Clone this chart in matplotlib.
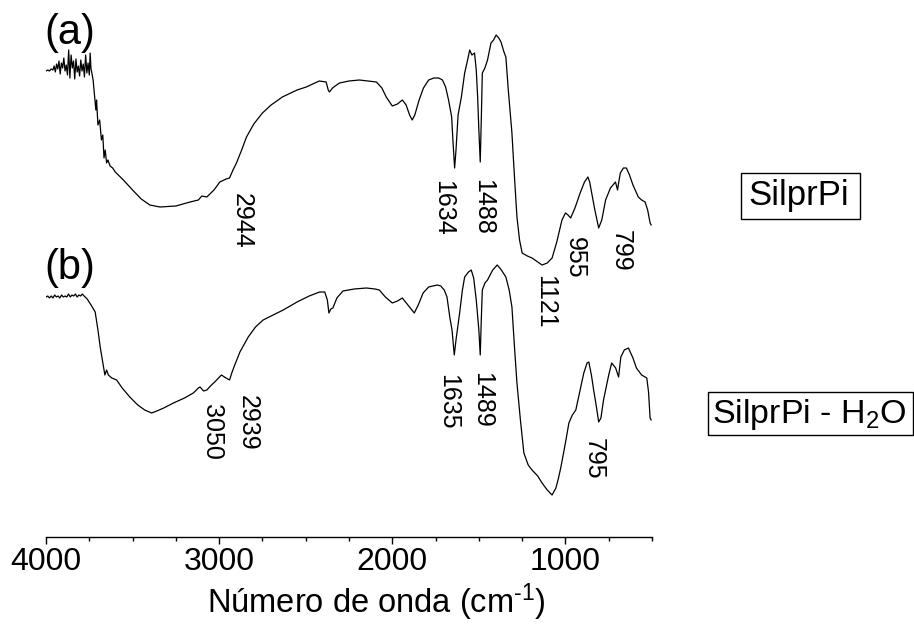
import numpy as np
import matplotlib
matplotlib.use("Agg")
import matplotlib.pyplot as plt
from matplotlib.ticker import MultipleLocator
from matplotlib.patches import Rectangle

plt.rcParams['font.family'] = ['Liberation Sans', 'DejaVu Sans']
plt.rcParams['mathtext.fontset'] = 'custom'
plt.rcParams['mathtext.rm'] = 'Liberation Sans'
plt.rcParams['mathtext.it'] = 'Liberation Sans'

# ---- data: wavenumber (cm-1) and transmittance (arbitrary units, offset curves) ----
wn_a = [4000, 3990, 3980, 3970, 3960, 3953, 3946, 3939, 3932, 3925, 3918, 3911, 3904, 3897,
        3890, 3883, 3876, 3869, 3862, 3855, 3848, 3841, 3834, 3827, 3820, 3813, 3806, 3799,
        3792, 3785, 3778, 3771, 3764, 3757, 3750, 3745, 3740, 3734, 3728, 3720, 3712, 3708,
        3700, 3690, 3680, 3672, 3665, 3658, 3650, 3642, 3630, 3615, 3600, 3553, 3500, 3450,
        3400, 3342, 3250, 3168, 3120, 3100, 3071, 3030, 2996, 2960, 2940, 2920, 2900, 2870,
        2842, 2800, 2750, 2700, 2635, 2550, 2497, 2422, 2382, 2370, 2363, 2345, 2330, 2305,
        2250, 2190, 2092, 2060, 2035, 2000, 1970, 1942, 1920, 1900, 1885, 1870, 1845, 1820,
        1790, 1760, 1732, 1710, 1692, 1675, 1657, 1650, 1640, 1632, 1620, 1601, 1582, 1565,
        1553, 1540, 1525, 1515, 1507, 1500, 1492, 1486, 1480, 1465, 1450, 1430, 1415, 1400,
        1385, 1372, 1355, 1344, 1330, 1309, 1295, 1280, 1265, 1250, 1220, 1193, 1160, 1135,
        1105, 1077, 1050, 1020, 1000, 985, 970, 945, 915, 890, 870, 860, 848, 830, 808, 790,
        768, 740, 711, 699, 690, 683, 665, 648, 630, 610, 579, 560, 540, 525, 511, 505]
t_a = [466, 467, 466, 468, 467, 471, 465, 473, 468, 476, 463, 474, 469, 479,
       466, 472, 462, 487, 459, 482, 469, 476, 458, 478, 465, 471, 461, 477,
       466, 473, 460, 482, 464, 474, 462, 484, 468, 463, 457, 442, 427, 437,
       412, 417, 397, 402, 379, 387, 374, 377, 371, 369, 365, 357, 347, 338,
       332, 330, 331, 335, 337, 341, 340, 347, 355, 358, 359, 367, 374, 387,
       400, 413, 424, 432, 440, 447, 450, 456, 455, 447, 445, 449, 451, 454,
       456, 457, 455, 449, 440, 431, 433, 437, 432, 422, 417, 422, 437, 449,
       457, 459, 459, 457, 450, 437, 420, 397, 369, 387, 422, 440, 464, 477,
       487, 482, 484, 467, 440, 407, 375, 417, 464, 469, 477, 494, 497, 502,
       499, 495, 485, 480, 447, 404, 362, 320, 297, 284, 281, 279, 275, 272,
       274, 279, 295, 317, 324, 322, 319, 329, 344, 355, 360, 355, 344, 327, 309, 317,
       337, 349, 355, 347, 357, 364, 369, 369, 362, 352, 340, 337, 335, 327, 314, 312]

wn_b = [4000, 3990, 3980, 3970, 3960, 3950, 3940, 3930, 3920, 3910, 3900, 3890, 3880, 3870,
        3860, 3850, 3840, 3830, 3820, 3810, 3800, 3790, 3780, 3762, 3740, 3716, 3700, 3687,
        3670, 3660, 3650, 3640, 3620, 3592, 3560, 3516, 3470, 3430, 3390, 3360, 3320, 3264,
        3200, 3149, 3120, 3110, 3090, 3071, 3050, 3020, 2987, 2960, 2940, 2925, 2910, 2880,
        2832, 2790, 2746, 2700, 2630, 2550, 2480, 2420, 2390, 2375, 2366, 2355, 2343, 2320,
        2285, 2220, 2150, 2100, 2075, 2040, 2000, 1970, 1942, 1910, 1873, 1850, 1822, 1790,
        1740, 1720, 1700, 1684, 1668, 1655, 1642, 1632, 1611, 1595, 1582, 1560, 1544, 1530,
        1515, 1500, 1492, 1486, 1480, 1465, 1450, 1420, 1394, 1370, 1344, 1325, 1309, 1295,
        1280, 1260, 1240, 1215, 1193, 1160, 1135, 1105, 1077, 1055, 1040, 1026, 1000, 980,
        960, 940, 915, 894, 875, 865, 850, 837, 820, 808, 795, 780, 768, 750, 733, 710, 693,
        680, 660, 636, 610, 590, 560, 530, 520, 511, 505]
t_b = [240, 241, 239, 241, 239, 242, 240, 241, 239, 242, 240, 241, 240, 243,
       240, 242, 241, 243, 240, 242, 241, 243, 241, 238, 232, 225, 207, 190,
       172, 162, 167, 162, 159, 157, 149, 140, 132, 127, 124, 126, 129, 134,
       139, 144, 149, 150, 146, 147, 151, 156, 162, 159, 157, 165, 172, 185,
       200, 210, 217, 221, 227, 235, 241, 245, 245, 237, 224, 228, 229, 239,
       246, 248, 249, 248, 247, 240, 234, 236, 239, 232, 224, 232, 244, 250,
       252, 251, 247, 240, 220, 207, 182, 197, 224, 247, 260, 265, 267, 259,
       237, 207, 182, 217, 247, 254, 257, 267, 272, 267, 260, 247, 230, 192,
       154, 117, 84, 72, 67, 61, 54, 47, 42, 49, 59, 70, 94, 114,
       122, 127, 147, 164, 174, 175, 162, 147, 129, 115, 119, 137, 147, 162, 174, 169, 160,
       180, 187, 189, 179, 169, 162, 159, 145, 119, 117]

peak_labels_a = ["2944", "1634", "1488", "1121", "955", "799"]
peak_labels_b = ["3050", "2939", "1635", "1489", "795"]
sample_names = ["SilprPi", "SilprPi - H$_\\mathregular{2}$O"]
panel_tags = ["(a)", "(b)"]
x_ticks = [4000, 3000, 2000, 1000]

# ---- layout ----
W, H = 914, 625
fig = plt.figure(figsize=(W / 100, H / 100), dpi=100)
ax = fig.add_axes([46 / W, (H - 537) / H, 606 / W, 537 / H])

ax.plot(wn_a, t_a, color='black', lw=0.9)
ax.plot(wn_b, t_b, color='black', lw=0.9)

ax.set_xlim(4000, 500)
ax.set_ylim(0, 537)
for s in ['top', 'right', 'left']:
    ax.spines[s].set_visible(False)
ax.spines['bottom'].set_linewidth(1.0)
ax.set_yticks([])
ax.set_xticks(x_ticks)
ax.xaxis.set_minor_locator(MultipleLocator(250))
ax.tick_params(axis='x', which='major', direction='out', length=5, width=1.0,
               labelsize=23, pad=2)
ax.tick_params(axis='x', which='minor', direction='out', length=3, width=1.0)

# x-axis title
fig.text(376.5 / W, 1 - 613 / H, "Número de onda (cm$^{\\text{-1}}$)",
         ha='center', va='baseline', fontsize=23.5)

# peak annotations (rotated)
pos_a = [(2868, 316), (1707, 329), (1476, 330), (1118, 235), (945, 279), (679, 286)]
pos_b = [(3041, 105), (2833, 114), (1678, 135), (1482, 137), (835, 78)]
for lab, (x, y) in zip(peak_labels_a, pos_a):
    ax.text(x, y, lab, rotation=270, ha='center', va='center', fontsize=18)
for lab, (x, y) in zip(peak_labels_b, pos_b):
    ax.text(x, y, lab, rotation=270, ha='center', va='center', fontsize=18)

# panel tags
fig.text(70 / W, 1 - 33 / H, panel_tags[0], ha='center', va='center', fontsize=30)
fig.text(70 / W, 1 - 268 / H, panel_tags[1], ha='center', va='center', fontsize=30)

# boxed sample names
def px_rect(x0, y0, x1, y1):
    return Rectangle((x0 / W, 1 - y1 / H), (x1 - x0) / W, (y1 - y0) / H,
                     transform=fig.transFigure, fill=False, ec='black', lw=1.0)

fig.patches.append(px_rect(741, 173, 860, 219))
fig.patches.append(px_rect(708, 392, 912.5, 435))
fig.text(799 / W, 1 - 205 / H, sample_names[0], ha='center', va='baseline', fontsize=25)
fig.text(809 / W, 1 - 423 / H, sample_names[1], ha='center', va='baseline', fontsize=24.5)

fig.savefig("out.png", dpi=100)
